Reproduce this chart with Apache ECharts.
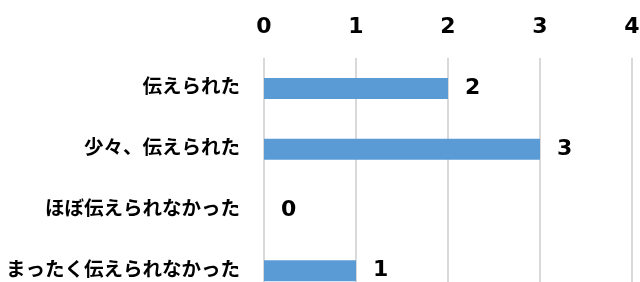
<!DOCTYPE html>
<html>
<head>
<meta charset="utf-8">
<script src="https://cdn.jsdelivr.net/npm/echarts@6/dist/echarts.min.js"></script>
<style>
  html, body { margin: 0; padding: 0; background: #fff; }
  #chart { width: 640px; height: 282px; }
</style>
</head>
<body>
<div id="chart"></div>
<script>
// 回答カテゴリ（上から順）
const categories = ["伝えられた", "少々、伝えられた", "ほぼ伝えられなかった", "まったく伝えられなかった"];
// 回答数
const counts = [2, 3, 0, 1];
// 目盛り
const tickValues = [0, 1, 2, 3, 4];

const font = "'DejaVu Sans', 'Noto Sans CJK JP', sans-serif";

let chart = echarts.init(document.getElementById("chart"));
chart.setOption({
  animation: false,
  grid: {
    left: 264,
    top: 58,
    width: 368,
    height: 243,
    containLabel: false,
    outerBoundsMode: "none",
  },
  xAxis: {
    type: "value",
    position: "top",
    min: tickValues[0],
    max: tickValues[tickValues.length - 1],
    interval: 1,
    axisLine: { show: false },
    axisTick: { show: false },
    axisLabel: {
      color: "#000",
      fontFamily: font,
      fontWeight: "bold",
      fontSize: 22,
      margin: 20,
    },
    splitLine: {
      show: true,
      lineStyle: { color: "#d9d9d9", width: 2 },
    },
  },
  yAxis: {
    type: "category",
    inverse: true,
    data: categories,
    axisLine: { show: false },
    axisTick: { show: false },
    axisLabel: {
      color: "#000",
      fontFamily: font,
      fontWeight: "bold",
      fontSize: 19.5,
      margin: 24,
    },
  },
  series: [
    {
      type: "bar",
      data: counts,
      barWidth: 21,
      itemStyle: { color: "#5b9bd5" },
      label: {
        show: true,
        position: "right",
        distance: 17,
        color: "#000",
        fontFamily: font,
        fontWeight: "bold",
        fontSize: 22,
      },
    },
  ],
});
</script>
</body>
</html>
